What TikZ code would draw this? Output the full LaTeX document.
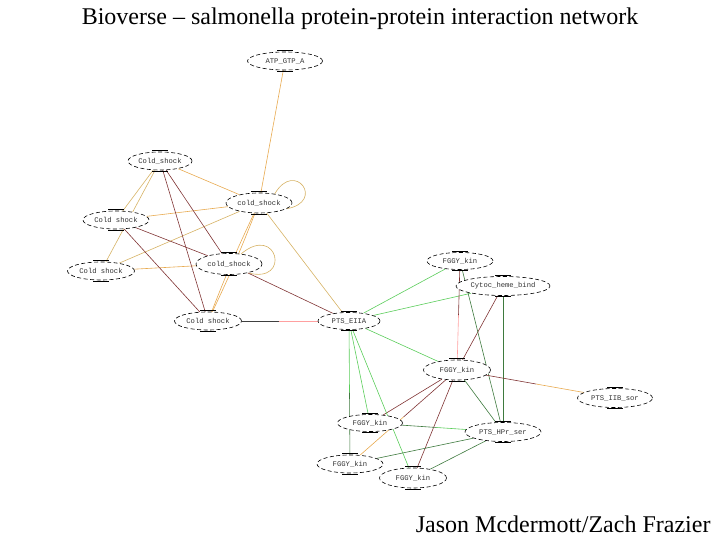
\documentclass[tikz,border=0pt]{standalone}
\usepackage{fontspec}
\setmainfont{Liberation Serif}
\setmonofont{Liberation Mono}
\usetikzlibrary{shapes.geometric,calc,backgrounds}

\definecolor{edgeorange}{RGB}{232,170,80}
\definecolor{edgetan}{RGB}{214,178,100}
\definecolor{edgered}{RGB}{128,52,52}
\definecolor{edgepink}{RGB}{255,160,160}
\definecolor{edgegreen}{RGB}{90,205,90}
\definecolor{edgedkgreen}{RGB}{62,122,62}

\tikzset{
  protein/.style={ellipse, draw, fill=white, line width=0.6pt,
    dash pattern=on 4pt off 2.5pt, inner sep=0pt,
    minimum width=66pt, minimum height=18pt,
    font=\fontsize{7.2}{8}\selectfont\ttfamily, text=black!80},
  wideprotein/.style={protein, minimum width=75pt},
  link/.style={line width=0.6pt}
}

\begin{document}
\begin{tikzpicture}[x=1pt, y=1pt]
  \useasboundingbox (0,0) rectangle (720,540);

  % Title and credit
  \node[font=\fontsize{24}{28}\selectfont] (title) at (360,521)
    {Bioverse -- salmonella protein-protein interaction network};
  \node[anchor=east, font=\fontsize{24}{28}\selectfont] (credit) at (714,16)
    {Jason Mcdermott/Zach Frazier};

  % Cold shock cluster
  \node[wideprotein] (atp) at (285,479) {ATP\_GTP\_A};
  \node[protein, minimum width=64pt] (csa) at (160,379) {Cold\_shock};
  \node[protein, minimum height=20pt] (csb) at (259,337) {cold\_shock};
  \node[protein] (csc) at (116,320) {Cold shock};
  \node[protein, minimum width=67pt] (csd) at (101,269) {Cold shock};
  \node[protein, minimum height=21pt] (cse) at (229,276) {cold\_shock};
  \node[protein, minimum width=67pt] (csf) at (208,219) {Cold shock};

  % PTS / kinase cluster
  \node[protein, minimum width=62pt, minimum height=17pt] (eiia) at (349,219) {PTS\_EIIA};
  \node[protein, minimum height=17pt] (fgga) at (460,279) {FGGY\_kin};
  \node[protein, minimum width=94pt, minimum height=19pt] (cyto) at (503,254) {Cytoc\_heme\_bind};
  \node[protein, minimum width=67pt, minimum height=20pt] (fggb) at (457,170) {FGGY\_kin};
  \node[wideprotein, minimum height=19pt] (sor) at (615,142) {PTS\_IIB\_sor};
  \node[protein, minimum width=65pt, minimum height=17pt] (fggc) at (370,117) {FGGY\_kin};
  \node[protein, minimum width=76pt, minimum height=19pt] (hpr) at (503,108) {PTS\_HPr\_ser};
  \node[protein] (fggd) at (350,76) {FGGY\_kin};
  \node[protein, minimum width=67pt, minimum height=20pt] (fgge) at (413,62) {FGGY\_kin};

  % solid ticks on top and bottom of each ellipse
  \foreach \n in {atp,csa,csb,csc,csd,cse,csf,eiia,fgga,cyto,fggb,sor,fggc,hpr,fggd,fgge} {
    \draw[line width=0.6pt] ([xshift=-8pt,yshift=1pt]\n.north) -- ([xshift=8pt,yshift=1pt]\n.north);
    \draw[line width=0.6pt] ([xshift=-8pt,yshift=-1pt]\n.south) -- ([xshift=8pt,yshift=-1pt]\n.south);
  }

  \begin{pgfonlayer}{background}
    % orange links
    \foreach \a/\b in {atp/csb, csa/csb, csd/cse, csb/csc}
      \draw[link, edgeorange] (\a) -- (\b);
    \draw[link, edgeorange] (csb) to[bend left=2] (csf);
    \draw[link, edgeorange] (csb) to[bend right=2] (csf);
    % tan links
    \foreach \a/\b in {csa/csc, csa/csd, csb/csd, csb/eiia}
      \draw[link, edgetan] (\a) -- (\b);
    % self loops
    \draw[link, edgetan] (csb.30) .. controls +(60:40) and +(10:40) .. (csb.-12);
    \draw[link, edgetan] (cse.40) .. controls +(40:48) and +(-15:45) .. (cse.-25);
    % dark red links
    \foreach \a/\b in {csa/csf, csa/cse, csc/cse, csc/csf, cse/eiia,
                       cyto/fggb, fggb/fggc, fggb/fgge}
      \draw[link, edgered] (\a) -- (\b);
    % green links
    \foreach \a/\b in {eiia/fgga, eiia/cyto, eiia/fggb, eiia/fggc, eiia/fgge}
      \draw[link, edgegreen] (\a) -- (\b);
    % dark green links
    \foreach \a/\b in {fgga/hpr, cyto/hpr, fggb/hpr, fggd/hpr, fgge/hpr}
      \draw[link, edgedkgreen] (\a) -- (\b);
    % two-colour links
    \foreach \a/\b/\ca/\cb in {csf/eiia/black!75/edgepink, fgga/fggb/edgered/edgepink,
                               fggb/sor/edgered/edgeorange, fggb/fggd/edgered/edgeorange,
                               eiia/fggd/edgegreen/edgedkgreen, fggc/hpr/edgedkgreen/edgegreen} {
      \draw[link, \ca] (\a) -- ($(\a)!0.5!(\b)$);
      \draw[link, \cb] ($(\a)!0.5!(\b)$) -- (\b);
    }
  \end{pgfonlayer}
\end{tikzpicture}
\end{document}
